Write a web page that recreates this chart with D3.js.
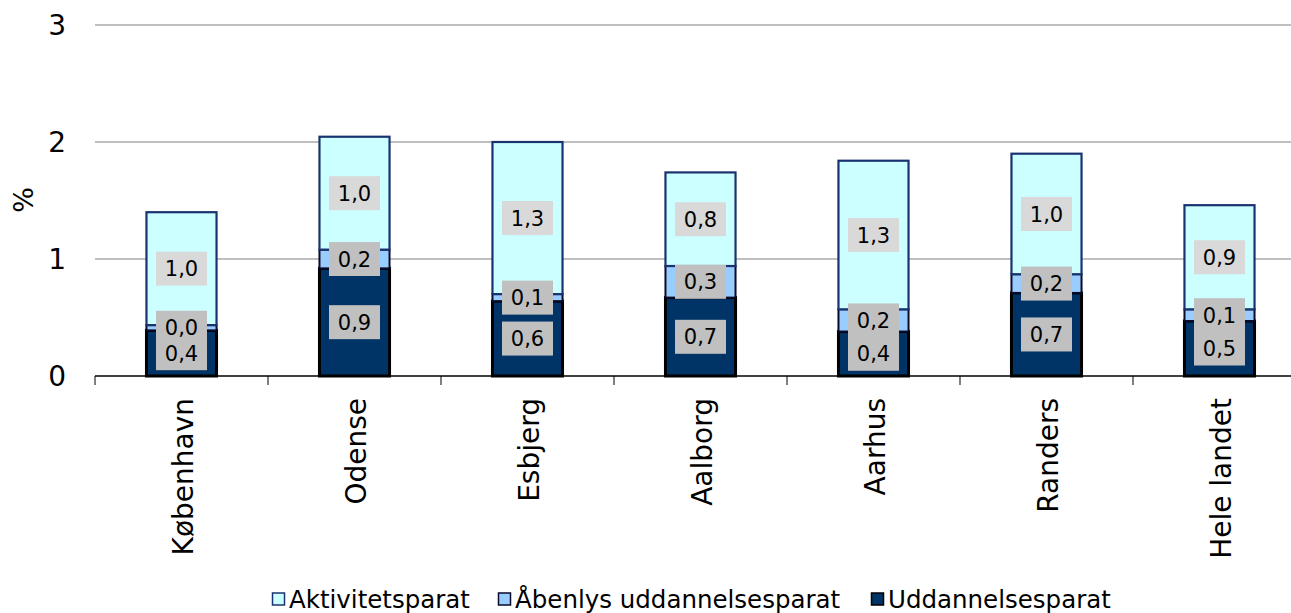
<!DOCTYPE html>
<html><head><meta charset="utf-8">
<script src="https://cdn.jsdelivr.net/npm/d3@7"></script>
<style>body{margin:0;background:#fff}svg{display:block}text{font-family:Verdana,"DejaVu Sans",sans-serif}</style>
</head><body>
<svg id="c" width="1291" height="613"></svg>
<script>
const categories = ["København","Odense","Esbjerg","Aalborg","Aarhus","Randers","Hele landet"];
const uddannelsesparat = [0.39,0.92,0.64,0.67,0.38,0.71,0.47];
const aabenlys = [0.045,0.16,0.06,0.27,0.19,0.16,0.10];
const aktivitetsparat = [0.965,0.965,1.30,0.80,1.27,1.03,0.89];
const seriesNames = ["Aktivitetsparat","Åbenlys uddannelsesparat","Uddannelsesparat"];
const yTicks = [0,1,2,3];

const svg = d3.select("#c");
const x = d3.scaleBand().domain(categories).range([95,1306]).paddingInner(0.595).paddingOuter(0.2975);
const y = d3.scaleLinear().domain([0,3]).range([376,25]);

const fmt = v => d3.format(".1f")(v).replace(".", ",");

// gridlines
svg.append("g").selectAll("line").data(yTicks.filter(t=>t>0)).join("line")
  .attr("x1",95).attr("x2",1306).attr("y1",d=>y(d)).attr("y2",d=>y(d))
  .attr("stroke","#808080").attr("stroke-width",1.2);

// y tick labels
svg.append("g").selectAll("text").data(yTicks).join("text")
  .attr("x",66).attr("y",d=>y(d)).attr("dy","0.36em").attr("text-anchor","end")
  .attr("font-size",28).attr("fill","#000").text(d=>d);

// y title
svg.append("text").attr("transform","translate(33,200) rotate(-90)")
  .attr("text-anchor","middle").attr("font-size",27).text("%");

// x axis baseline & ticks
svg.append("line").attr("x1",95).attr("x2",1306).attr("y1",y(0)).attr("y2",y(0)).attr("stroke","#000").attr("stroke-width",1.5);
const bounds = d3.range(categories.length+1).map(i=>95 + i*x.step());
svg.append("g").selectAll("line").data(bounds).join("line")
  .attr("x1",d=>d).attr("x2",d=>d).attr("y1",y(0)).attr("y2",y(0)+9)
  .attr("stroke","#000").attr("stroke-width",1);

// stacked data
const stackKeys = ["udd","aab","akt"];
const rows = categories.map((c,i)=>({cat:c, udd:uddannelsesparat[i], aab:aabenlys[i], akt:aktivitetsparat[i]}));
const stacked = d3.stack().keys(stackKeys)(rows);
const fills = {udd:"#003366", aab:"#99ccff", akt:"#ccffff"};
const strokes = {udd:"#000000", aab:"#0a0a2a", akt:"#1a3370"};
const sw = {udd:3, aab:2, akt:2.2};
const boxFill = {udd:"#c0c0c0", aab:"#c0c0c0", akt:"#d9d9d9"};

const gBars = svg.append("g");
stacked.forEach(s=>{
  gBars.append("g").selectAll("rect").data(s).join("rect")
    .attr("x",d=>x(d.data.cat)).attr("width",x.bandwidth())
    .attr("y",d=>y(d[1])).attr("height",d=>y(d[0])-y(d[1]))
    .attr("fill",fills[s.key]).attr("stroke",strokes[s.key]).attr("stroke-width",sw[s.key]);
});

// labels
const gLab = svg.append("g");
stacked.forEach(s=>{
  const g = gLab.append("g").selectAll("g").data(s).join("g")
    .attr("transform",d=>`translate(${x(d.data.cat)+x.bandwidth()/2},${(y(d[0])+y(d[1]))/2})`);
  g.append("rect").attr("x",-25.5).attr("y",-17).attr("width",51).attr("height",34).attr("fill",boxFill[s.key]);
  g.append("text").attr("text-anchor","middle").attr("dy","0.36em").attr("font-size",21)
    .attr("fill","#000").text(d=>fmt(d[1]-d[0]));
});

// category labels
svg.append("g").selectAll("text").data(categories).join("text")
  .attr("transform",d=>`translate(${x(d)+x.bandwidth()/2+1},398) rotate(-90)`)
  .attr("text-anchor","end").attr("dy","0.36em").attr("font-size",28).text(d=>d);

// legend
const legX = [272, 498, 871];
const legKeys = ["akt","aab","udd"];
const lg = svg.append("g").selectAll("g").data(seriesNames).join("g")
  .attr("transform",(d,i)=>`translate(${legX[i]},0)`);
lg.append("rect").attr("x",0.5).attr("y",593).attr("width",12).attr("height",12)
  .attr("fill",(d,i)=>fills[legKeys[i]]).attr("stroke",(d,i)=>strokes[legKeys[i]]).attr("stroke-width",1.5);
lg.append("text").attr("x",17).attr("y",608).attr("font-size",24.5).text(d=>d);
</script>
</body></html>
